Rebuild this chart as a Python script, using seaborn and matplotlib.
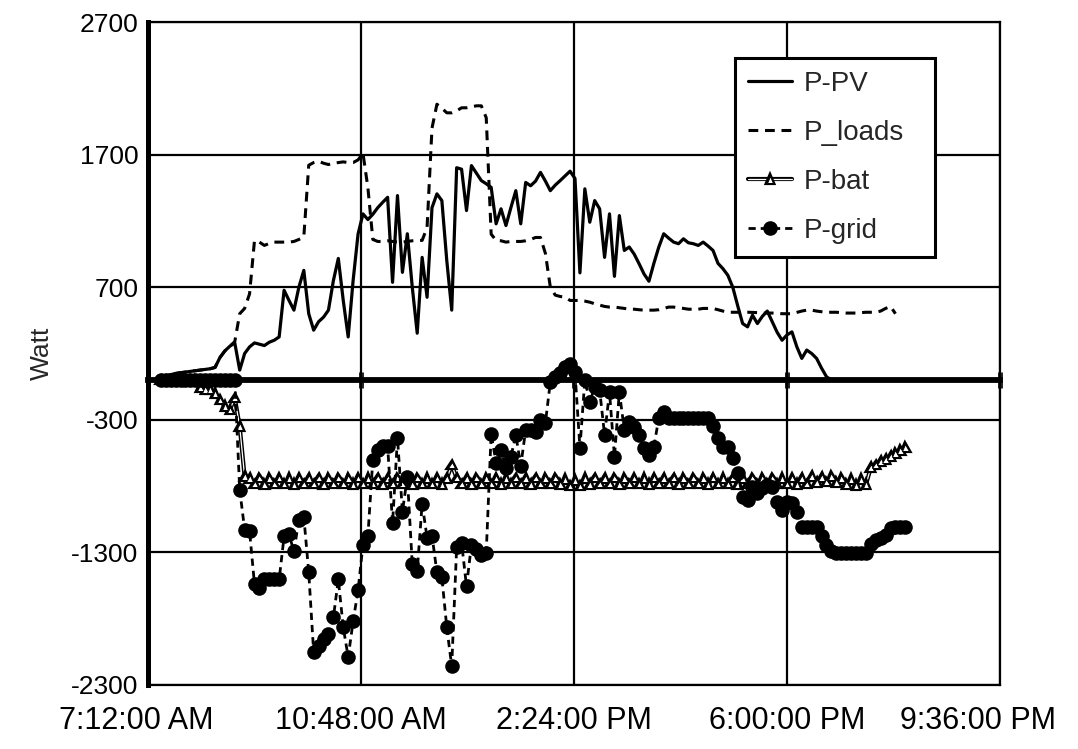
import matplotlib
matplotlib.use("Agg")
import matplotlib.pyplot as plt
import matplotlib.dates as mdates
import matplotlib.patheffects as pe
from matplotlib.transforms import ScaledTranslation
import numpy as np
import pandas as pd
import seaborn as sns

# Sampling times (5-minute log from 7:25 to 20:00)
times = pd.date_range("2000-01-01 07:25", "2000-01-01 20:00", freq="5min")

p_pv = [
    20, 30, 40, 50, 55, 60, 65, 70, 75, 80, 85, 95,
    170, 220, 255, 280, 75, 200, 250, 280, 270, 260, 285, 300, 325,
    677, 600, 527, 700, 827, 500, 376, 440, 474, 527, 750, 917,
    600, 325, 750, 1100, 1253, 1210, 1250, 1300, 1340, 1378,
    737, 1391, 812, 1103, 700, 353, 925, 624, 1300, 1404, 1353, 900, 527,
    1601, 1590, 1278, 1617, 1560, 1504, 1480, 1453, 1178, 1291, 1165,
    1300, 1428, 1178, 1490, 1465, 1500, 1566, 1500, 1428, 1470, 1504, 1540, 1575, 1520, 808,
    1442, 1190, 1353, 1291, 925, 1253, 782, 1240, 977, 1003, 950, 877, 800, 745,
    880, 1003, 1103, 1070, 1040, 1028, 1065, 1035, 1028, 1015, 1040, 1010, 977,
    880, 840, 790, 700, 560, 426, 401, 489, 426, 480, 520, 440, 360, 300,
    340, 363, 250, 163, 226, 200, 163, 90, 25, 0,
    0, 0, 0, 0, 0, 0, 0, 0, 0, 0, 0, 0, 0, 0, 0,
]

p_loads = [
    20, 30, 40, 50, 55, 60, 65, 70, 75, 80, 85, 95, 170, 220, 255,
    290,
    500, 540, 650,
    1053, 1040, 1015, 1030, 1040, 1040, 1040, 1040, 1045, 1060, 1078,
    1620, 1640, 1650, 1635, 1625, 1635, 1640, 1645, 1640, 1640, 1660, 1710,
    1450, 1060, 1045, 1045, 1050, 1045, 1040, 1040, 1045, 1050, 1053, 1053, 1150,
    1900, 2080, 2050, 2015, 2015, 2030, 2053, 2053, 2060, 2068, 2068, 1978,
    1100, 1053, 1050, 1040, 1045, 1045, 1045, 1050, 1060, 1075, 1075,
    955, 700, 640, 630, 625, 600, 600, 600, 595, 587, 575, 565,
    555, 550, 550, 545, 540, 534, 534, 530, 527, 527, 527, 530,
    540, 550, 550, 545, 540, 534, 534, 534, 540, 540, 540, 530,
    520, 511, 511, 511, 511, 511, 510, 508, 505, 505, 505, 503,
    500, 500, 500, 510, 520, 527, 527, 520, 515, 511, 511, 511,
    508, 505, 505, 505, 508, 511, 511, 511, 520, 540, 555, 500,
    np.nan, np.nan,
]

p_bat = [
    0, 0, 0, 0, 0, 0, 0, 0,
    -60, -70, -70, -100, -150, -200, -225, -135, -350, -730,
    -745, -785, -740, -790, -745, -785, -740, -785, -745, -790, -740, -785,
    -745, -785, -740, -790, -745, -785, -740, -785, -745, -790, -740, -785,
    -745, -785, -740, -790, -745, -785, -740, -785, -745, -790, -740, -785,
    -745, -785, -740, -790, -745, -640, -740, -785, -745, -790, -740, -785,
    -745, -785, -740, -790, -745, -785, -740, -785, -745, -790, -740, -785,
    -745, -785, -740, -790, -750, -800, -760, -800, -745, -790, -740, -785,
    -745, -785, -740, -790, -745, -785, -740, -785, -745, -790, -740, -785,
    -745, -785, -740, -790, -745, -785, -740, -785, -745, -790, -740, -785,
    -745, -785, -740, -790, -745, -785, -740, -785, -745, -790, -740, -785,
    -745, -785, -740, -790, -745, -785, -730, -775, -735, -770, -730, -775,
    -745, -790, -750, -795, -750, -790,
    -660, -640, -615, -600, -575, -555, -530, -510,
]

p_grid = [
    0, 0, 0, 0, 0, 0, 0, 0, 0, 0, 0, 0, 0, 0, 0, 0,
    -827, -1128, -1140, -1541, -1565, -1504, -1504, -1504, -1504, -1180, -1165, -1293, -1053, -1030, -1451,
    -2053, -2008, -1955, -1918, -1790, -1504, -1865, -2090, -1820, -1587, -1241, -1175, -600, -526, -495,
    -500, -1080, -436, -993, -730, -1391, -1444, -933, -1188, -1173, -1451, -1489, -1865, -2158, -1263,
    -1226, -1557, -1241, -1278, -1316, -1301, -406, -624, -526, -662, -579, -414, -647, -376, -376,
    -391, -301, -323, -15, 23, 53, 100, 120, 60, -511, 0, -165, -53, -75, -414,
    -90, -579, -90, -376, -316, -353, -414, -511, -564, -504, -286, -241, -286, -286, -286,
    -286, -286, -286, -286, -286, -286, -346, -436, -504, -504, -587, -700, -880, -902, -805,
    -850, -812, -790, -805, -917, -978, -917, -925, -993, -1105, -1105, -1105, -1105, -1180, -1241,
    -1293, -1301, -1301, -1301, -1301, -1301, -1301, -1301, -1240, -1210, -1190, -1170, -1113, -1105, -1105, -1105,
]

y_ticks = [-2300, -1300, -300, 700, 1700, 2700]
x_ticks = pd.date_range("2000-01-01 07:12", "2000-01-01 21:36", freq="216min")
x_tick_labels = ["7:12:00 AM", "10:48:00 AM", "2:24:00 PM", "6:00:00 PM", "9:36:00 PM"]

df = pd.DataFrame({
    "time": times,
    "P-PV": p_pv,
    "P_loads": p_loads,
    "P-bat": p_bat,
    "P-grid": p_grid,
})

sns.set_style("white")
plt.rcParams["font.family"] = ["Liberation Sans", "DejaVu Sans"]

W, H = 1078, 749
fig = plt.figure(figsize=(W / 100, H / 100), dpi=100)
ax = fig.add_axes([148 / W, 64 / H, 852 / W, 663 / H])

# Series
sns.lineplot(data=df, x="time", y="P-PV", ax=ax, color="black", lw=2.3,
             estimator=None, sort=False, label="P-PV", zorder=3,
             solid_joinstyle="round")
sns.lineplot(data=df, x="time", y="P_loads", ax=ax, color="black", lw=2.2,
             linestyle=(0, (3.2, 2.2)), estimator=None, sort=False,
             label="P_loads", zorder=3)
sns.lineplot(data=df, x="time", y="P-bat", ax=ax, color="white", lw=0.9,
             marker="^", markersize=4.8, markerfacecolor="white",
             markeredgecolor="black", markeredgewidth=0.7,
             estimator=None, sort=False, label="P-bat", zorder=4,
             path_effects=[pe.Stroke(linewidth=3.0, foreground="black"), pe.Normal()])
sns.lineplot(data=df, x="time", y="P-grid", ax=ax, color="black", lw=2.0,
             linestyle=(0, (2.6, 1.8)), marker="o", markersize=10.5,
             markerfacecolor="black", markeredgecolor="black", markeredgewidth=0,
             estimator=None, sort=False, label="P-grid", zorder=5)

# Axes ranges and grid
ax.set_xlim(x_ticks[0], x_ticks[-1])
ax.set_ylim(y_ticks[0], y_ticks[-1])
ax.set_yticks(y_ticks)
ax.set_yticklabels([str(v) for v in y_ticks])
ax.set_xticks(x_ticks)
ax.set_xticklabels(x_tick_labels)
ax.grid(True, color="black", lw=1.6)
ax.set_axisbelow(True)

for side in ("top", "right", "bottom"):
    ax.spines[side].set_visible(True)
    ax.spines[side].set_color("black")
    ax.spines[side].set_linewidth(1.6)
ax.spines["left"].set_color("black")
ax.spines["left"].set_linewidth(3.6)

ax.tick_params(axis="y", direction="out", length=5.5, width=3.6, pad=1.5,
               labelsize=19, colors="black")
ax.tick_params(axis="x", length=0, pad=15, labelsize=22, colors="black")

ax.set_xlabel("")
ax.set_ylabel("Watt", fontsize=19, labelpad=12)

# Edge labels kept inside the figure
xlabels = ax.get_xticklabels()
xlabels[0].set_transform(xlabels[0].get_transform()
                         + ScaledTranslation(-0.12, 0, fig.dpi_scale_trans))
xlabels[-1].set_transform(xlabels[-1].get_transform()
                          + ScaledTranslation(-0.22, 0, fig.dpi_scale_trans))

# Horizontal axis line crossing at zero
zero_pos = (0 - y_ticks[0]) / (y_ticks[-1] - y_ticks[0])
sec = ax.secondary_xaxis(zero_pos)
sec.set_xticks(mdates.date2num(x_ticks.to_pydatetime()))
sec.tick_params(axis="x", direction="inout", length=12, width=3.6,
                labelbottom=False, labeltop=False)
for side in ("top", "bottom"):
    sec.spines[side].set_linewidth(4.2)
    sec.spines[side].set_color("black")

# Legend
leg = ax.legend(loc="upper left", bbox_to_anchor=(0.689, 0.649, 0.235, 0.297),
                mode="expand", borderaxespad=0, fontsize=20, frameon=True,
                fancybox=False, framealpha=1, edgecolor="black",
                handlelength=1.6, handletextpad=0.40, labelspacing=0.835,
                borderpad=0.46)
leg.get_frame().set_linewidth(2.2)
leg.set_zorder(10)

fig.savefig("out.png", dpi=100, facecolor="white")
